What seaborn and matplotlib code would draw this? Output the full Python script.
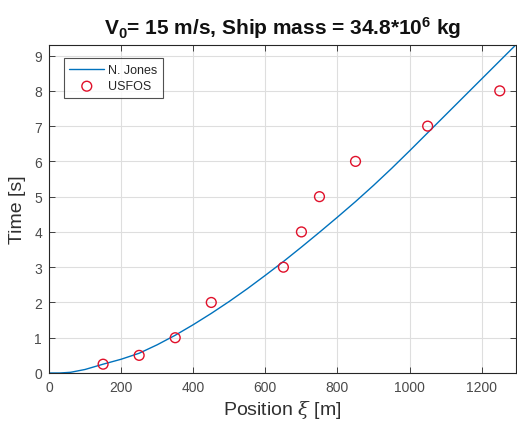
import numpy as np
import pandas as pd
import matplotlib
matplotlib.use("Agg")
import matplotlib.pyplot as plt
import seaborn as sns

# N. Jones analytical curve: position [m] vs time [s]
jones_pos = [0, 30, 60, 100, 150, 200, 250, 300, 350, 400, 450, 500, 550, 600, 650,
             700, 750, 800, 850, 900, 950, 1000, 1050, 1100, 1150, 1200, 1250, 1300]
jones_time = [0, 0.0, 0.02, 0.1, 0.25, 0.39, 0.56, 0.8, 1.07, 1.37, 1.69, 2.03, 2.39,
              2.77, 3.16, 3.57, 3.99, 4.42, 4.86, 5.32, 5.8, 6.3, 6.81, 7.32, 7.83,
              8.34, 8.85, 9.36]

# USFOS simulation results
usfos_pos = [150, 250, 350, 450, 650, 700, 750, 850, 1050, 1250]
usfos_time = [0.25, 0.5, 1, 2, 3, 4, 5, 6, 7, 8]

x_ticks = [0, 200, 400, 600, 800, 1000, 1200]
y_ticks = [0, 1, 2, 3, 4, 5, 6, 7, 8, 9]

sns.set_style("whitegrid")
plt.rcParams["font.family"] = ["Liberation Sans", "DejaVu Sans"]
plt.rcParams["mathtext.fontset"] = "custom"
plt.rcParams["mathtext.rm"] = "Liberation Sans"
plt.rcParams["mathtext.bf"] = "Liberation Sans:bold"
plt.rcParams["mathtext.it"] = "DejaVu Serif:italic"

fig = plt.figure(figsize=(5.17, 4.27), dpi=100)
ax = fig.add_axes([49 / 517, 1 - 374 / 427, (516 - 49) / 517, (374 - 46) / 427])

jones = pd.DataFrame({"pos": jones_pos, "time": jones_time})
usfos = pd.DataFrame({"pos": usfos_pos, "time": usfos_time})

sns.lineplot(data=jones, x="pos", y="time", ax=ax, color="#0072BD",
             linewidth=1.0, label="N. Jones", sort=False)
sns.scatterplot(data=usfos, x="pos", y="time", ax=ax, marker="o", s=50,
                facecolor="none", edgecolor="#E0102A", linewidth=1.0,
                label="USFOS", zorder=3)

ax.set_xlim(0, 1295)
ax.set_ylim(0, 9.3)
ax.set_xticks(x_ticks)
ax.set_yticks(y_ticks)
ax.grid(True, color="#dedede", linewidth=0.8)
for side in ["left", "bottom", "right", "top"]:
    ax.spines[side].set_visible(True)
    ax.spines[side].set_color("#262626")
    ax.spines[side].set_linewidth(0.8)
ax.tick_params(axis="both", direction="in", length=4, width=0.6, color="#262626",
               labelsize=10, labelcolor="#4a4a4a", top=True, right=True,
               bottom=True, left=True, pad=5)

ax.set_xlabel("Position $\\mathit{\\xi}$ [m]", fontsize=14, color="#303030", labelpad=3)
ax.set_ylabel("Time [s]", fontsize=14, color="#303030", labelpad=6)

fig.text(283 / 517, 1 - 28 / 427,
         "$\\mathbf{V_0}$= 15 m/s, Ship mass = 34.8*10$^\\mathbf{6}$ kg",
         ha="center", va="center", fontsize=15, fontweight="bold", color="#111111")

leg = ax.legend(loc="upper left", bbox_to_anchor=(0.018, 0.978), fontsize=9,
                frameon=True, fancybox=False, edgecolor="#262626",
                handlelength=2.8, handletextpad=0.3, borderpad=0.45,
                labelspacing=0.35)
leg.get_frame().set_linewidth(0.8)

fig.savefig("out.png", dpi=100)
